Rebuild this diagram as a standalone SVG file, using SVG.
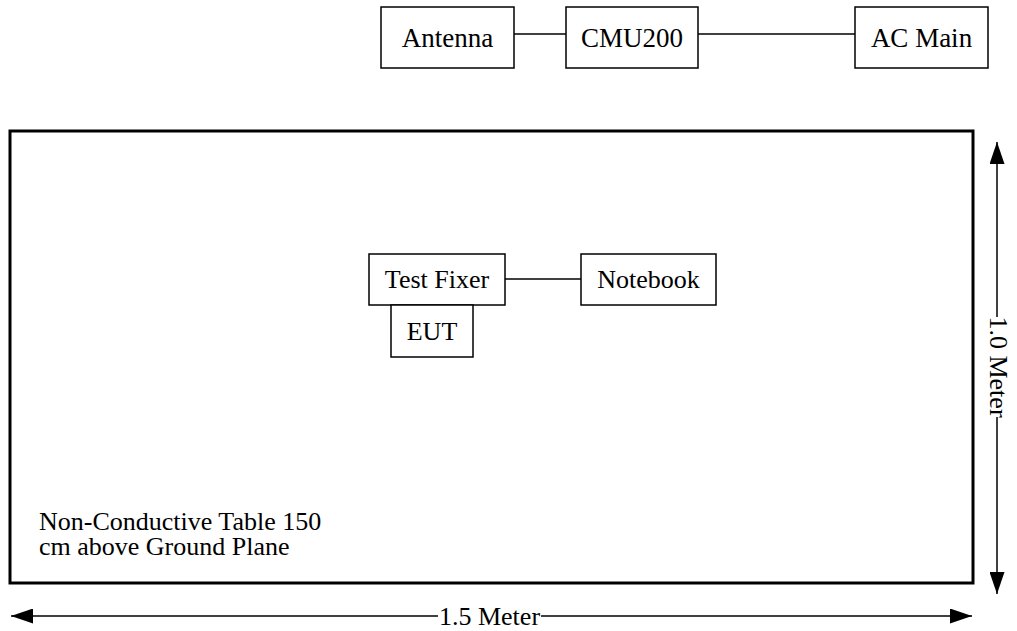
<svg xmlns="http://www.w3.org/2000/svg" width="1017" height="631" viewBox="0 0 1017 631">
<style>
.box{fill:#fff;stroke:#000;stroke-width:1.5}
.t{font-family:"Liberation Serif","Times New Roman",serif;font-size:26px;fill:#000;text-anchor:middle}
.top{font-size:27px}
.l{font-family:"Liberation Serif","Times New Roman",serif;font-size:26px;fill:#000}
.c{stroke:#000;stroke-width:1.5;fill:none}
</style>
<defs>
<marker id="ahb" viewBox="0 0 22 15" refX="22" refY="7.5" markerWidth="22" markerHeight="15" markerUnits="userSpaceOnUse" orient="auto"><path d="M0,0L22,7.5L0,15Z" fill="#000"/></marker>
</defs>
<g id="table"><rect x="10" y="131" width="963" height="452" fill="none" stroke="#000" stroke-width="3"/>
<text class="l" x="39" y="530">Non-Conductive Table 150</text>
<text class="l" x="39" y="555">cm above Ground Plane</text></g>
<g id="connectors">
<line class="c" x1="514" y1="34" x2="566" y2="34"/>
<line class="c" x1="698" y1="34" x2="855" y2="34"/>
<line class="c" x1="505" y1="279" x2="581" y2="279"/>
</g>
<g id="antenna"><rect class="box" x="381" y="7" width="133" height="61"/><text class="t top" x="447.5" y="47">Antenna</text></g>
<g id="cmu200"><rect class="box" x="566" y="7" width="132" height="61"/><text class="t top" x="632" y="47">CMU200</text></g>
<g id="acmain"><rect class="box" x="855" y="7" width="133" height="61"/><text class="t top" x="921.5" y="47">AC Main</text></g>
<g id="testfixer"><rect class="box" x="369" y="254" width="136" height="51"/><text class="t" x="437" y="288">Test Fixer</text></g>
<g id="notebook"><rect class="box" x="581" y="254" width="135" height="51"/><text class="t" x="648.5" y="288">Notebook</text></g>
<g id="eut"><rect class="box" x="391" y="305" width="82" height="52"/><text class="t" x="432" y="340">EUT</text></g>
<g id="dimensions">
<line class="c" x1="997" y1="317" x2="997" y2="142" marker-end="url(#ahb)"/>
<line class="c" x1="997" y1="417" x2="997" y2="594" marker-end="url(#ahb)"/>
<text class="t" transform="translate(990,367) rotate(90)" x="0" y="0">1.0 Meter</text>
<line class="c" x1="438" y1="616" x2="11" y2="616" marker-end="url(#ahb)"/>
<line class="c" x1="541" y1="616" x2="972" y2="616" marker-end="url(#ahb)"/>
<text class="t" x="489.5" y="625">1.5 Meter</text>
</g>
</svg>
